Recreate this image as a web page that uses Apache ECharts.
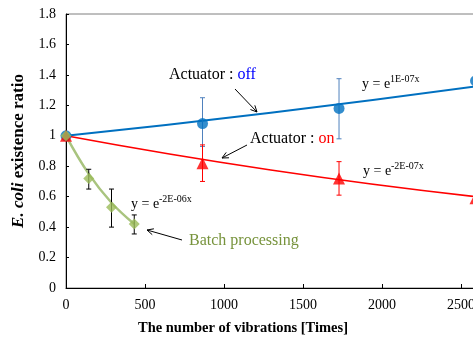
<!DOCTYPE html>
<html><head><meta charset="utf-8">
<script src="https://cdn.jsdelivr.net/npm/echarts@6/dist/echarts.min.js"></script>
<style>html,body{margin:0;padding:0;background:#fff}#c{width:473px;height:340px}</style>
</head><body><div id="c"></div>
<script>
// ---- data ----
const vibrations = [0, 864, 1728, 2592];
const offRatio = [1, 1.08, 1.18, 1.36];
const offLow   = [1, 0.93, 0.98, 1.22];
const offHigh  = [1, 1.25, 1.375, 1.50];
const onRatio  = [1, 0.82, 0.72, 0.59];
const onLow    = [1, 0.70, 0.61, 0.50];
const onHigh   = [1, 0.94, 0.83, 0.68];
const batchVibrations = [0, 144, 288, 432];
const batchRatio = [1, 0.72, 0.53, 0.42];
const batchLow   = [1, 0.65, 0.40, 0.355];
const batchHigh  = [1, 0.78, 0.65, 0.48];
// fitted trend lines
const offTrendX = [0, 1296, 2592];
const offTrendY = [1, 1.152, 1.325];
const onTrendX = [0, 1296, 2592];
const onTrendY = [1, 0.775, 0.60];
const batchTrendX = [0, 144, 288, 432];
const batchTrendY = [1, 0.75, 0.56, 0.42];
const xTickLabels = ['0', '500', '1000', '1500', '2000', '2500', '3000'];
const yTickLabels = ['0', '0.2', '0.4', '0.6', '0.8', '1', '1.2', '1.4', '1.6', '1.8'];

const FONT = '"Liberation Serif", "Times New Roman", serif';
const zip = (a, b) => a.map((v, i) => [v, b[i]]);

function errSeries(xs, lo, hi, color, z) {
  return {
    type: 'custom', z: z, silent: true,
    encode: { x: 0, y: [1, 2] },
    data: xs.map((x, i) => [x, lo[i], hi[i]]),
    renderItem(params, api) {
      const x = api.value(0);
      const a = api.coord([x, api.value(1)]);
      const b = api.coord([x, api.value(2)]);
      const h = 2.5;
      const st = { stroke: color, lineWidth: 1 };
      return { type: 'group', children: [
        { type: 'line', shape: { x1: a[0], y1: a[1], x2: b[0], y2: b[1] }, style: st },
        { type: 'line', shape: { x1: a[0] - h, y1: a[1], x2: a[0] + h, y2: a[1] }, style: st },
        { type: 'line', shape: { x1: b[0] - h, y1: b[1], x2: b[0] + h, y2: b[1] }, style: st }
      ]};
    }
  };
}

function arrow(x1, y1, x2, y2) {
  const ang = Math.atan2(y2 - y1, x2 - x1), L = 7, w = 0.45;
  const p1 = [x2 - L * Math.cos(ang - w), y2 - L * Math.sin(ang - w)];
  const p2 = [x2 - L * Math.cos(ang + w), y2 - L * Math.sin(ang + w)];
  return [
    { type: 'line', shape: { x1, y1, x2, y2 }, style: { stroke: '#000', lineWidth: 1 }, z: 50 },
    { type: 'polyline', shape: { points: [p1, [x2, y2], p2] }, style: { stroke: '#000', lineWidth: 1, fill: null }, z: 50 }
  ];
}
function txt(left, cy, text, size, fill, extra) {
  return Object.assign({ type: 'text', left: left, top: cy - size / 2 - 1, z: 50,
    style: { text: text, font: size + 'px ' + FONT, fill: fill } }, extra || {});
}
function eq(left, cy, sup) {
  return [txt(left, cy, 'y = e', 14, '#000'), txt(left + 28, cy - 5, sup, 10, '#000')];
}

const chart = echarts.init(document.getElementById('c'), null, { renderer: 'canvas' });
chart.setOption({
  animation: false,
  backgroundColor: '#fff',
  grid: { left: 66, top: 14, right: -67, bottom: 52, show: true, borderColor: '#7f7f7f', borderWidth: 1,
    containLabel: false, outerBoundsMode: 'none' },
  xAxis: {
    type: 'value', min: 0, max: 3000, interval: 500,
    axisLine: { lineStyle: { color: '#000', width: 1 } },
    axisTick: { inside: true, length: 4, lineStyle: { color: '#000' } },
    splitLine: { show: false },
    axisLabel: { fontFamily: FONT, fontSize: 14, color: '#000', margin: 10, hideOverlap: false,
      formatter: v => xTickLabels[Math.round(v / 500)] }
  },
  yAxis: {
    type: 'value', min: 0, max: 1.8, interval: 0.2,
    name: '{i|E. coli} existence ratio', nameLocation: 'middle', nameGap: 27, nameRotate: 90,
    nameTextStyle: { fontFamily: FONT, fontWeight: 'bold', fontSize: 17, color: '#000',
      rich: { i: { fontFamily: FONT, fontWeight: 'bold', fontStyle: 'italic', fontSize: 17, color: '#000' } } },
    axisLine: { show: true, lineStyle: { color: '#000', width: 1 } },
    axisTick: { show: true, inside: true, length: 3, lineStyle: { color: '#000' } },
    splitLine: { show: false },
    axisLabel: { fontFamily: FONT, fontSize: 14, color: '#000', margin: 10,
      formatter: v => yTickLabels[Math.round(v / 0.2)] }
  },
  series: [
    { type: 'line', data: zip(offTrendX, offTrendY), showSymbol: false, smooth: true, lineStyle: { color: '#0070C0', width: 2 }, z: 2, silent: true },
    { type: 'line', data: zip(onTrendX, onTrendY), showSymbol: false, smooth: true, lineStyle: { color: '#FF0000', width: 1.6 }, z: 2, silent: true },
    { type: 'line', data: zip(batchTrendX, batchTrendY), showSymbol: false, smooth: 0.4, lineStyle: { color: '#A9C47F', width: 2.5 }, z: 2, silent: true },
    errSeries(vibrations.slice(1), offLow.slice(1), offHigh.slice(1), '#4F81BD', 3),
    errSeries(vibrations.slice(1), onLow.slice(1), onHigh.slice(1), '#FF0000', 3),
    errSeries(batchVibrations.slice(1), batchLow.slice(1), batchHigh.slice(1), '#000', 3),
    { type: 'scatter', data: zip(vibrations, offRatio), symbol: 'circle', symbolSize: 11, itemStyle: { color: '#0070C0' }, z: 4 },
    { type: 'scatter', data: zip(vibrations, onRatio), symbol: 'triangle', symbolSize: 12, itemStyle: { color: '#FF0000' }, z: 4 },
    { type: 'scatter', data: zip(batchVibrations, batchRatio), symbol: 'diamond', symbolSize: 11, itemStyle: { color: '#9BBB59' }, z: 5 }
  ],
  graphic: [
    txt(169, 76, '', 16, '#000', { style: { text: 'Actuator : {b|off}', font: '16px ' + FONT, fill: '#000', rich: { b: { fill: '#0000FF', fontSize: 16, fontFamily: FONT } } } }),
    txt(250, 140, '', 16, '#000', { style: { text: 'Actuator : {r|on}', font: '16px ' + FONT, fill: '#000', rich: { r: { fill: '#FF0000', fontSize: 16, fontFamily: FONT } } } }),
    txt(189, 242, 'Batch processing', 16, '#77933C'),
    ...eq(362, 85, '1E-07x'),
    ...eq(363, 172, '-2E-07x'),
    ...eq(131, 205, '-2E-06x'),
    ...arrow(235, 89, 257, 112),
    ...arrow(247, 145, 222, 158),
    ...arrow(182, 240, 147, 230),
    { type: 'text', x: 243, y: 328, z: 50,
      style: { text: 'The number of vibrations [Times]', font: 'bold 14.5px ' + FONT, fill: '#000', align: 'center', verticalAlign: 'middle' } }
  ]
});
</script></body></html>
